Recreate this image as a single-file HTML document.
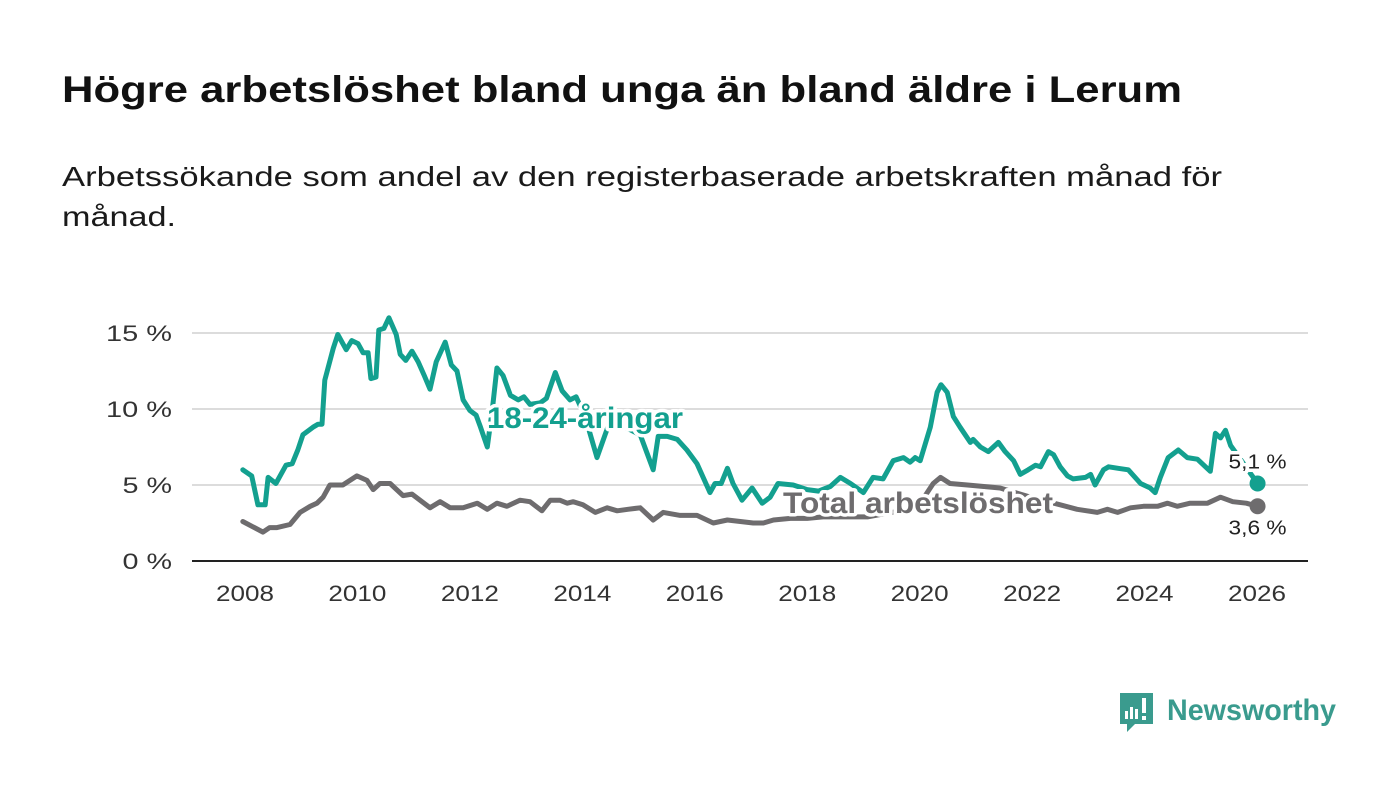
<!DOCTYPE html>
<html><head><meta charset="utf-8">
<style>
html,body{margin:0;padding:0;background:#fff;width:1400px;height:794px;overflow:hidden}
svg{display:block;font-family:"Liberation Sans","DejaVu Sans",sans-serif}
</style></head>
<body>
<svg id="chart" width="1400" height="794" viewBox="0 0 1400 794">
<text x="62" y="102" font-size="37" font-weight="bold" fill="#111" textLength="1120" lengthAdjust="spacingAndGlyphs">Högre arbetslöshet bland unga än bland äldre i Lerum</text>
<text x="62" y="186" font-size="28" fill="#1a1a1a" textLength="1160" lengthAdjust="spacingAndGlyphs">Arbetssökande som andel av den registerbaserade arbetskraften månad för</text>
<text x="62" y="226" font-size="28" fill="#1a1a1a" textLength="114" lengthAdjust="spacingAndGlyphs">månad.</text>
<g id="grid"></g>
<g id="yticks"></g>
<g id="xticks"></g>
<g id="series"></g>
<g id="labels"></g>
<g>
  <path d="M1120 693 h33 v31 h-18 l-8 8 v-8 h-7 z" fill="#3a9b8e"/>
  <rect x="1125" y="711" width="3" height="8" fill="#fff"/>
  <rect x="1130" y="707" width="3" height="12" fill="#fff"/>
  <rect x="1135" y="709" width="3" height="10" fill="#fff"/>
  <rect x="1142" y="698" width="4" height="15" fill="#fff"/>
  <rect x="1142" y="716" width="4" height="4" fill="#fff"/>
  <text x="1167" y="720" font-size="30" font-weight="bold" fill="#3a9b8e" textLength="169" lengthAdjust="spacingAndGlyphs">Newsworthy</text>
</g>
</svg>
<script>
const yTicks = [0, 5, 10, 15];
const yTickLabels = ["0 %", "5 %", "10 %", "15 %"];
const xTicks = [2008, 2010, 2012, 2014, 2016, 2018, 2020, 2022, 2024, 2026];
const youthDates = [2007.96,2008.12,2008.23,2008.36,2008.41,2008.55,2008.73,2008.84,2008.94,2009.03,2009.21,2009.30,2009.37,2009.42,2009.57,2009.65,2009.80,2009.90,2010.01,2010.10,2010.19,2010.24,2010.33,2010.38,2010.47,2010.56,2010.69,2010.76,2010.86,2010.97,2011.08,2011.19,2011.29,2011.40,2011.56,2011.67,2011.77,2011.88,2012.00,2012.11,2012.18,2012.31,2012.40,2012.48,2012.59,2012.72,2012.86,2012.96,2013.07,2013.25,2013.36,2013.52,2013.64,2013.78,2013.89,2014.05,2014.26,2014.49,2014.76,2015.03,2015.26,2015.35,2015.51,2015.69,2015.86,2016.04,2016.27,2016.36,2016.47,2016.58,2016.68,2016.84,2017.02,2017.20,2017.34,2017.48,2017.75,2018.00,2018.20,2018.41,2018.59,2018.77,2019.00,2019.17,2019.35,2019.53,2019.71,2019.83,2019.92,2020.01,2020.19,2020.31,2020.38,2020.49,2020.60,2020.72,2020.90,2020.95,2021.08,2021.22,2021.40,2021.52,2021.67,2021.79,2021.93,2022.06,2022.15,2022.29,2022.38,2022.50,2022.63,2022.73,2022.95,2023.04,2023.12,2023.27,2023.36,2023.53,2023.71,2023.93,2024.10,2024.19,2024.28,2024.42,2024.60,2024.76,2024.94,2025.17,2025.26,2025.35,2025.44,2025.53,2026.01];
const youthValues = [6.0,5.6,3.7,3.7,5.5,5.1,6.3,6.4,7.3,8.3,8.8,9.0,9.0,11.9,14.0,14.9,13.9,14.5,14.3,13.7,13.7,12.0,12.1,15.2,15.3,16.0,14.9,13.6,13.2,13.8,13.1,12.2,11.3,13.1,14.4,12.9,12.5,10.6,9.9,9.6,8.9,7.5,10.0,12.7,12.2,10.9,10.6,10.8,10.3,10.4,10.7,12.4,11.2,10.6,10.8,9.5,6.8,9.2,8.8,8.3,6.0,8.2,8.2,8.0,7.3,6.4,4.5,5.1,5.1,6.1,5.1,4.0,4.8,3.8,4.2,5.1,5.0,4.7,4.6,4.9,5.5,5.1,4.5,5.5,5.4,6.6,6.8,6.5,6.8,6.6,8.8,11.1,11.6,11.1,9.5,8.8,7.8,8.0,7.5,7.2,7.8,7.2,6.6,5.7,6.0,6.3,6.2,7.2,7.0,6.2,5.6,5.4,5.5,5.7,5.0,6.0,6.2,6.1,6.0,5.1,4.8,4.5,5.5,6.8,7.3,6.8,6.7,5.9,8.4,8.1,8.6,7.6,5.1];
const totalDates = [2007.96,2008.32,2008.44,2008.57,2008.80,2008.98,2009.16,2009.28,2009.39,2009.51,2009.64,2009.74,2009.99,2010.17,2010.28,2010.40,2010.58,2010.81,2010.97,2011.29,2011.47,2011.65,2011.88,2012.13,2012.31,2012.48,2012.66,2012.89,2013.07,2013.28,2013.43,2013.60,2013.73,2013.84,2014.01,2014.23,2014.44,2014.62,2014.81,2015.03,2015.26,2015.44,2015.74,2016.04,2016.33,2016.58,2016.81,2017.04,2017.22,2017.40,2017.70,2018.00,2018.28,2018.59,2019.07,2019.65,2020.01,2020.24,2020.37,2020.54,2020.85,2021.43,2021.97,2022.50,2022.80,2023.16,2023.34,2023.52,2023.75,2023.98,2024.23,2024.41,2024.58,2024.81,2025.12,2025.35,2025.57,2025.81,2026.01];
const totalValues = [2.6,1.9,2.2,2.2,2.4,3.2,3.6,3.8,4.2,5.0,5.0,5.0,5.6,5.3,4.7,5.1,5.1,4.3,4.4,3.5,3.9,3.5,3.5,3.8,3.4,3.8,3.6,4.0,3.9,3.3,4.0,4.0,3.8,3.9,3.7,3.2,3.5,3.3,3.4,3.5,2.7,3.2,3.0,3.0,2.5,2.7,2.6,2.5,2.5,2.7,2.8,2.8,2.9,2.9,2.9,3.3,3.8,5.1,5.5,5.1,5.0,4.8,4.2,3.7,3.4,3.2,3.4,3.2,3.5,3.6,3.6,3.8,3.6,3.8,3.8,4.2,3.9,3.8,3.6];
const lastYouthLabel = "5,1 %";
const lastTotalLabel = "3,6 %";

const NS = "http://www.w3.org/2000/svg";
const x0 = 192, x1 = 1308;
const xScale = d => 245 + (d - 2008) * (1257 - 245) / 18;
const yScale = v => 561 - v * 15.2;
function mk(tag, attrs, parent) {
  const e = document.createElementNS(NS, tag);
  for (const k in attrs) e.setAttribute(k, attrs[k]);
  parent.appendChild(e);
  return e;
}
const grid = document.getElementById('grid');
const yt = document.getElementById('yticks');
yTicks.forEach((v, i) => {
  if (v > 0) {
    const g = mk('line', {x1: x0, x2: x1, y1: yScale(v), y2: yScale(v), stroke: '#dcdcdc', 'stroke-width': 2}, grid);
    
    
  }
  const lab = yTickLabels[i];
  const t = mk('text', {x: 172, y: yScale(v) + 8, 'text-anchor': 'end', 'font-size': 22, fill: '#333', textLength: lab.length * 16.5, lengthAdjust: 'spacingAndGlyphs'}, yt);
  t.textContent = lab;
  
  
});
const xt = document.getElementById('xticks');
const ax = mk('line', {x1: x0, x2: x1, y1: 561, y2: 561, stroke: '#222', 'stroke-width': 2}, xt);


xTicks.forEach(yv => {
  const t = mk('text', {x: xScale(yv), y: 601, 'text-anchor': 'middle', 'font-size': 22, fill: '#333', textLength: 58, lengthAdjust: 'spacingAndGlyphs'}, xt);
  t.textContent = yv;
  
  
});
const ser = document.getElementById('series');
function line(dates, vals, color, name) {
  const d = dates.map((dt, i) => (i ? 'L' : 'M') + xScale(dt).toFixed(1) + ' ' + yScale(vals[i]).toFixed(1)).join(' ');
  const p = mk('path', {d: d, fill: 'none', stroke: color, 'stroke-width': 5, 'stroke-linejoin': 'round', 'stroke-linecap': 'round'}, ser);
  
  
  const n = dates.length - 1;
  const c = mk('circle', {cx: xScale(dates[n]), cy: yScale(vals[n]), r: 8, fill: color}, ser);
  
  
}
line(totalDates, totalValues, '#6e6c6e', 'total-line');
line(youthDates, youthValues, '#13a08f', 'youth-line');
const lb = document.getElementById('labels');
function label(x, y, txt, size, color, weight, name, len) {
  const t = mk('text', {x: x, y: y, 'text-anchor': 'middle', 'font-size': size, 'font-weight': weight, fill: color, stroke: '#fff', 'stroke-width': 7, 'paint-order': 'stroke', 'stroke-linejoin': 'round', textLength: len, lengthAdjust: 'spacingAndGlyphs'}, lb);
  t.textContent = txt;
  
  
}
label(585, 428, '18-24-åringar', 30, '#13a08f', 'bold', 'youth-series-label', 196);
label(918, 513, 'Total arbetslöshet', 30, '#6e6c6e', 'bold', 'total-series-label', 270);
const n1 = youthDates.length - 1, n2 = totalDates.length - 1;
label(xScale(youthDates[n1]), yScale(youthValues[n1]) - 15, lastYouthLabel, 20, '#222', 'normal', 'youth-end-value', 58);
label(xScale(totalDates[n2]), yScale(totalValues[n2]) + 28, lastTotalLabel, 20, '#222', 'normal', 'total-end-value', 58);
</script>
</body></html>
